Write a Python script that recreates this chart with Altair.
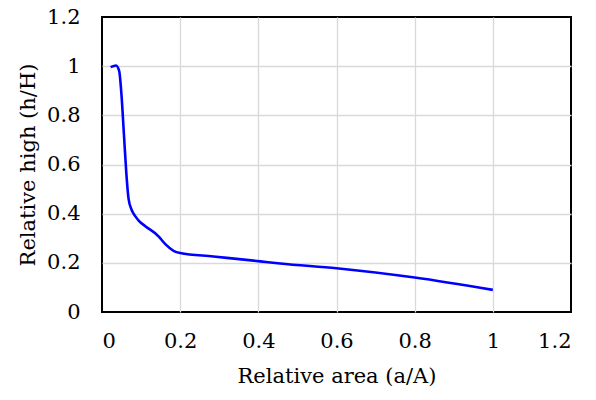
import altair as alt
import pandas as pd

area = [0.022, 0.036, 0.044, 0.050, 0.056, 0.062, 0.068, 0.076, 0.085, 0.095,
        0.110, 0.144, 0.162, 0.183, 0.200, 0.285, 0.405, 0.456, 0.600, 0.800, 1.000]
high = [0.996, 1.003, 0.980, 0.880, 0.725, 0.570, 0.460, 0.415, 0.390, 0.370,
        0.350, 0.309, 0.276, 0.249, 0.240, 0.226, 0.206, 0.197, 0.178, 0.140, 0.090]
x_ticks = [0, 0.2, 0.4, 0.6, 0.8, 1, 1.2]
y_ticks = [0, 0.2, 0.4, 0.6, 0.8, 1, 1.2]

df = pd.DataFrame({"a": area, "h": high})

FONT = "DejaVu Serif"
FS = 21
edge = "datum.value <= 0.001 || datum.value >= 1.199"
grid_op = alt.condition(edge, alt.value(0), alt.value(1))

common = dict(format="~g", ticks=False, tickSize=0, domain=False,
              grid=True, gridOpacity=grid_op, gridColor="#d9d9d9", gridWidth=1.3,
              labelFont=FONT, titleFont=FONT, labelFontSize=FS, titleFontSize=FS,
              labelColor="black", titleColor="black", titleFontWeight="normal")

chart = alt.Chart(df).mark_line(color="#0000ff", strokeWidth=2.6, interpolate="monotone").encode(
    x=alt.X("a:Q", scale=alt.Scale(domain=[0, 1.2], nice=False),
            axis=alt.Axis(title="Relative area (a/A)", values=x_ticks,
                          labelPadding=18, titlePadding=14, **common)),
    y=alt.Y("h:Q", scale=alt.Scale(domain=[0, 1.2], nice=False),
            axis=alt.Axis(title="Relative high (h/H)", values=y_ticks,
                          labelPadding=22, titlePadding=8, **common)),
).properties(
    width=469, height=295,
    autosize=alt.AutoSizeParams(type="none"),
    padding={"left": 94, "top": 9, "right": 12, "bottom": 79},
).configure_view(
    stroke="black", strokeWidth=2
)

chart.save("out.html", embed_options={"renderer": "svg", "actions": False})
